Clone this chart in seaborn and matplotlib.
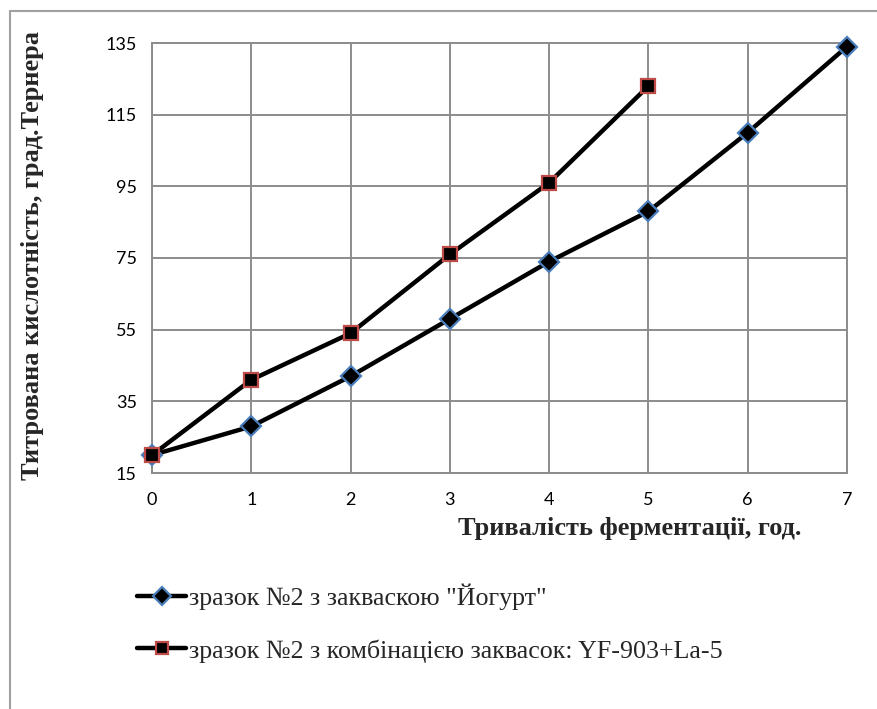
import pandas as pd
import matplotlib
matplotlib.use("Agg")
import matplotlib.pyplot as plt
import seaborn as sns
from matplotlib.lines import Line2D

# data
hours_a = [0, 1, 2, 3, 4, 5, 6, 7]
acid_a = [20, 28, 42, 58, 74, 88, 110, 134]
hours_b = [0, 1, 2, 3, 4, 5]
acid_b = [20, 41, 54, 76, 96, 123]
label_a = 'зразок №2 з закваскою "Йогурт"'
label_b = "зразок №2 з комбінацією заквасок: YF-903+La-5"
y_ticks = [15, 35, 55, 75, 95, 115, 135]
x_ticks = [0, 1, 2, 3, 4, 5, 6, 7]

df_a = pd.DataFrame({"hours": hours_a, "acid": acid_a})
df_b = pd.DataFrame({"hours": hours_b, "acid": acid_b})

sns.set_style("white")
plt.rcParams["font.family"] = ["Lato", "DejaVu Sans"]

fig = plt.figure(figsize=(8.77, 7.09), dpi=100)
ax = fig.add_axes([152 / 877, 1 - 473 / 709, (847 - 152) / 877, (473 - 43) / 709])

grid_c = "#8c8c8c"
blue = "#4a7ebb"
red = "#be4b48"

sns.lineplot(data=df_a, x="hours", y="acid", ax=ax, color="black", linewidth=3.2,
             marker="D", markersize=10, markerfacecolor="black",
             markeredgecolor=blue, markeredgewidth=1.6, zorder=3, clip_on=False)
sns.lineplot(data=df_b, x="hours", y="acid", ax=ax, color="black", linewidth=3.2,
             marker="s", markersize=10, markerfacecolor="black",
             markeredgecolor=red, markeredgewidth=1.6, zorder=4, clip_on=False)

ax.set_xlim(0, 7)
ax.set_ylim(15, 135)
ax.set_xticks(x_ticks)
ax.set_yticks(y_ticks)
ax.grid(True, color=grid_c, linewidth=1.4)
ax.set_axisbelow(True)
for s in ax.spines.values():
    s.set_color(grid_c)
    s.set_linewidth(1.4)
ax.tick_params(axis="both", which="major", length=5, width=1.4, color=grid_c,
               labelsize=13, labelcolor="black", direction="out")
ax.tick_params(axis="x", pad=9)
ax.tick_params(axis="y", pad=6)
ax.set_xlabel("")
ax.set_ylabel("")

serif = ["Liberation Serif", "DejaVu Serif"]
fig.text(630 / 877, 1 - 529 / 709, "Тривалість ферментації, год.", family=serif,
         fontsize=19, fontweight="bold", ha="center", va="center")
fig.text(33 / 877, 1 - 256 / 709, "Титрована кислотність, град.Тернера", family=serif,
         fontsize=19, fontweight="bold", ha="center", va="center", rotation=90)

handles = [
    Line2D([], [], color="black", linewidth=3.2, marker="D", markersize=9,
           markerfacecolor="black", markeredgecolor=blue, markeredgewidth=1.6),
    Line2D([], [], color="black", linewidth=3.2, marker="s", markersize=9,
           markerfacecolor="black", markeredgecolor=red, markeredgewidth=1.6),
]
fig.legend(handles, [label_a, label_b], loc="upper left",
           bbox_to_anchor=(137 / 877, 1 - 584 / 709), frameon=False,
           prop={"family": serif, "size": 18.7}, handlelength=1.9,
           handletextpad=0.1, labelspacing=1.1, borderpad=0, borderaxespad=0)

# outer chart border
fig.add_artist(Line2D([10 / 877, 1], [1 - 11 / 709, 1 - 11 / 709],
                      transform=fig.transFigure, color="#a0a0a0", linewidth=1.5))
fig.add_artist(Line2D([10 / 877, 10 / 877], [0, 1 - 11 / 709],
                      transform=fig.transFigure, color="#a0a0a0", linewidth=1.5))

fig.savefig("out.png", dpi=100)
